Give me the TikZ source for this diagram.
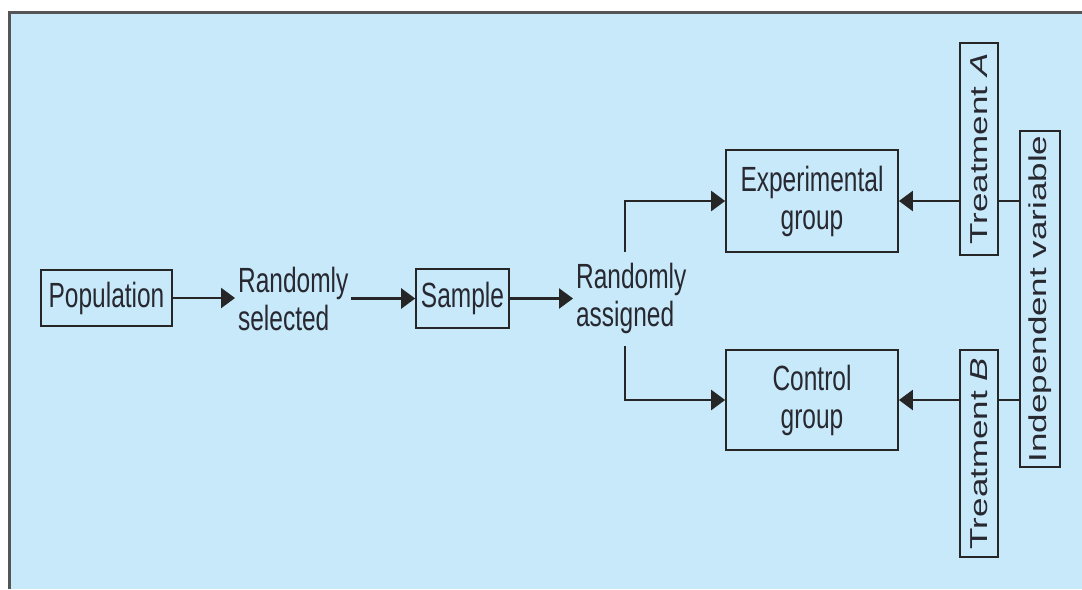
\documentclass[tikz,border=0pt]{standalone}
\usepackage{fontspec}
\setmainfont{Liberation Sans}
\usetikzlibrary{arrows.meta}
\definecolor{bgblue}{RGB}{199,233,250}
\definecolor{linecol}{RGB}{38,38,38}
\definecolor{framecol}{RGB}{85,85,85}
\definecolor{txtcol}{RGB}{40,40,48}
\newcommand\fs{\fontsize{17.5}{19}\selectfont}
\tikzset{
 box/.style={draw=linecol,line width=1.2pt,inner sep=0pt,text=txtcol,align=center,font=\fs},
 lbl/.style={inner sep=2pt,align=left,text=txtcol,font=\fs},
 arr/.style={draw=linecol,line width=1.2pt,-{Triangle[length=7pt,width=10pt]}},
 ln/.style={draw=linecol,line width=1.2pt},
}
\begin{document}
\begin{tikzpicture}[x=0.714286pt,y=-0.5pt,xscale=0.7,every node/.append style={transform shape}]
 \useasboundingbox (0,0) rectangle (1082,589);
 \fill[bgblue] (9,12) rectangle (1082,589);
 \draw[framecol,line width=1.5pt] (9,589)--(9,12)--(1082,12);
 % main chain
 \node[box,minimum width=93.6pt,minimum height=28pt] (pop) at (106.5,298) {Population};
 \node[lbl,anchor=west] (sel) at (235,299) {Randomly\\selected};
 \node[box,minimum width=66.4pt,minimum height=29.5pt] (samp) at (462.5,298.5) {Sample};
 \node[lbl,anchor=west] (asg) at (573,298) {Randomly\\assigned};
 % groups
 \node[box,minimum width=122.9pt,minimum height=51pt] (expgrp) at (812,201) {Experimental\\group};
 \node[box,minimum width=122.9pt,minimum height=50pt] (ctlgrp) at (812,400) {Control\\group};
 % treatments
 \node[box,rotate=90,minimum width=106pt,minimum height=27.1pt] (trtA) at (979,149) {Treatment \textit{A}};
 \node[box,rotate=90,minimum width=103.5pt,minimum height=27.1pt] (trtB) at (979,453.5) {Treatment \textit{B}};
 \node[box,rotate=90,minimum width=168pt,minimum height=28.6pt] (indep) at (1040,299) {Independent variable};
 \coordinate (up) at (625,252);
 \coordinate (dn) at (625,346);
 % connectors
 \draw[arr] (pop.east) -- (sel.west |- pop.east);
 \draw[arr] (sel.east |- samp.west) -- (samp.west);
 \draw[arr] (samp.east) -- (asg.west |- samp.east);
 \draw[arr] (up) |- (expgrp.west);
 \draw[arr] (dn) |- (ctlgrp.west);
 \draw[arr] (trtA.north |- expgrp.east) -- (expgrp.east);
 \draw[arr] (trtB.north |- ctlgrp.east) -- (ctlgrp.east);
 \draw[ln] (trtA.south |- expgrp.east) -- (indep.north |- expgrp.east);
 \draw[ln] (trtB.south |- ctlgrp.east) -- (indep.north |- ctlgrp.east);
\end{tikzpicture}
\end{document}
